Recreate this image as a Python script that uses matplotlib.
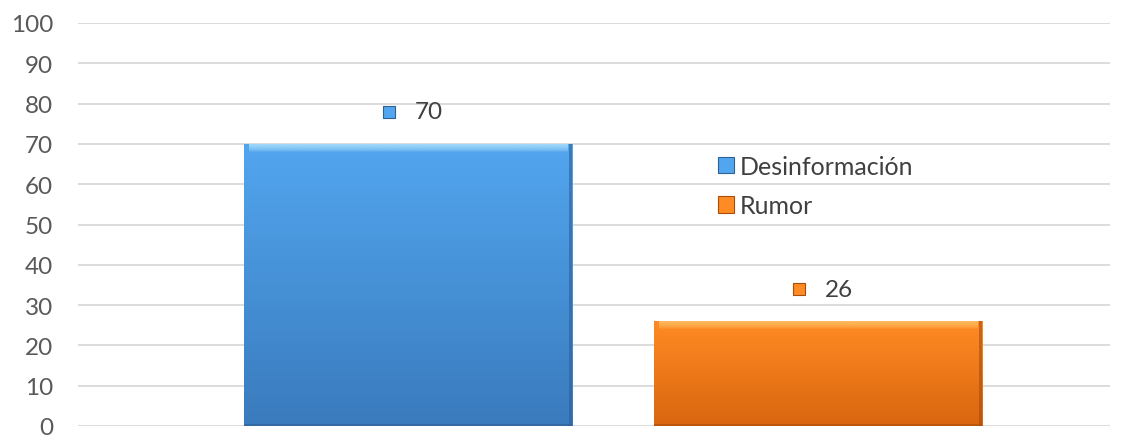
import numpy as np
import matplotlib
matplotlib.use("Agg")
import matplotlib.pyplot as plt
from matplotlib.colors import LinearSegmentedColormap, to_rgba
from matplotlib.patches import Rectangle
from matplotlib.transforms import offset_copy

# Data
series = ["Desinformación", "Rumor"]
values = [70, 26]
y_ticks = [0, 10, 20, 30, 40, 50, 60, 70, 80, 90, 100]

# Colours (top, bottom of gradient, bevel highlight, edge)
fills = {
    "Desinformación": ("#52a6ef", "#3a7bbd", "#a2dafb", "#2f5f93"),
    "Rumor": ("#ff8b24", "#d9650f", "#ffbb60", "#a84c0b"),
}

plt.rcParams["font.family"] = ["Lato", "DejaVu Sans"]

fig = plt.figure(figsize=(11.40, 4.39), dpi=100)
ax = fig.add_axes([78 / 1140, 12 / 439, (1110 - 78) / 1140, (427 - 24) / 439])

positions = np.arange(len(series))
width = 0.8
bars = ax.bar(positions, values, width=width,
              color=[fills[s][0] for s in series], zorder=2)

for bar, s in zip(bars, series):
    top, bot, hi, edge = fills[s]
    x0, w, h = bar.get_x(), bar.get_width(), bar.get_height()
    cmap = LinearSegmentedColormap.from_list(s, [bot, top])
    grad = np.linspace(0, 1, 256).reshape(-1, 1)
    im = ax.imshow(grad, cmap=cmap, origin="lower", aspect="auto",
                   extent=(x0, x0 + w, 0, h), zorder=2.1)
    im.set_clip_path(bar)
    # bevel highlight along the top edge, fading downwards
    hi_rgba = np.array(to_rgba(hi))
    band = np.tile(hi_rgba, (64, 1, 1))
    band[:, 0, 3] = np.linspace(0.0, 1.0, 64) ** 0.6
    ax.imshow(band, origin="lower", aspect="auto",
              extent=(x0 + 0.012, x0 + w - 0.012, h - 2.0, h - 0.2), zorder=2.2)
    # darker rims on right and bottom
    ax.add_patch(Rectangle((x0 + w - 0.008, 0), 0.008, h, facecolor=edge,
                           edgecolor="none", alpha=0.6, zorder=2.3))
    ax.add_patch(Rectangle((x0, 0), w, 0.6, facecolor=edge,
                           edgecolor="none", alpha=0.6, zorder=2.3))

# Data labels with a small series key
for xpos, v, s in zip(positions, values, series):
    mt = offset_copy(ax.transData, fig=fig, x=-14, y=23, units="points")
    ax.plot([xpos], [v], marker="s", markersize=9, color=fills[s][0],
            markeredgecolor=fills[s][3], markeredgewidth=0.8,
            transform=mt, zorder=4, clip_on=False)
    tt = offset_copy(ax.transData, fig=fig, x=5, y=23, units="points")
    ax.text(xpos, v, f"{v}", transform=tt, ha="left", va="center",
            fontsize=17.5, color="#404040", zorder=4)

ax.set_xlim(-0.805, 1.712)
ax.set_ylim(0, 100)
ax.set_yticks(y_ticks)
ax.set_xticks([])
ax.tick_params(axis="y", length=0, pad=18, labelsize=17.5, labelcolor="#595959")
ax.grid(axis="y", color="#d9d9d9", linewidth=1.3, zorder=0)
ax.set_axisbelow(True)
for sp in ax.spines.values():
    sp.set_visible(False)

handles = [Rectangle((0, 0), 1, 1, facecolor=fills[s][0], edgecolor=fills[s][3],
                     linewidth=0.8) for s in series]
leg = fig.legend(handles, series, loc="upper left",
                 bbox_to_anchor=(718 / 1140, 1 - 156 / 439),
                 frameon=False, fontsize=18, handlelength=0.62, handleheight=0.62,
                 handletextpad=0.25, labelspacing=0.65, borderpad=0, borderaxespad=0)
for t in leg.get_texts():
    t.set_color("#404040")

fig.savefig("out.png", dpi=100, facecolor="white")
